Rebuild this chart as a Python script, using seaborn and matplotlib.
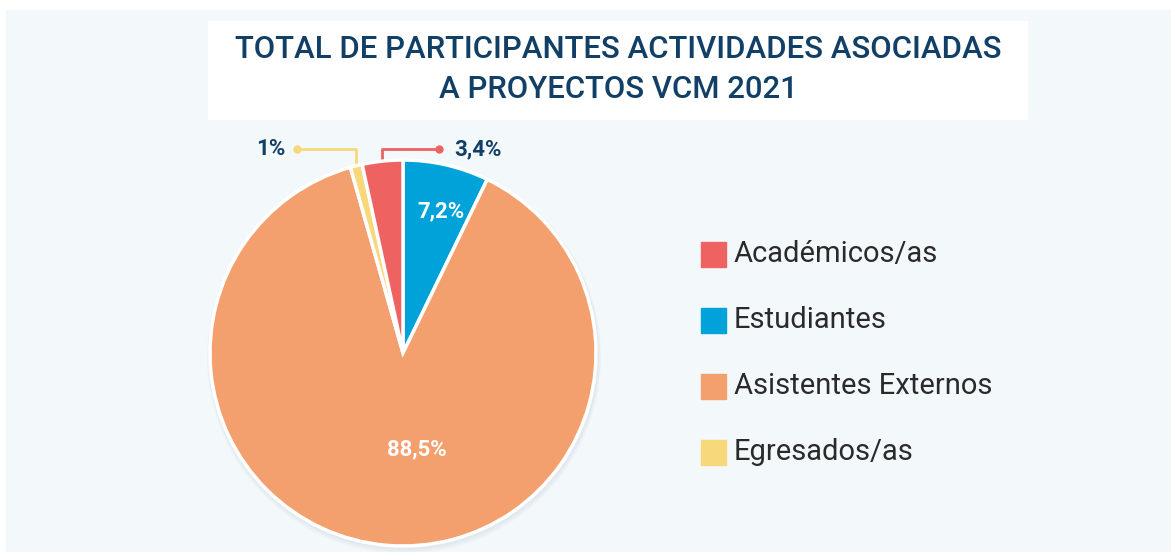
import numpy as np
import seaborn as sns
import matplotlib.pyplot as plt
from matplotlib.patches import Rectangle, Circle

# data (order as drawn clockwise from 12 o'clock)
categories = ['Estudiantes', 'Asistentes Externos', 'Egresados/as', 'Académicos/as']
shares = [7.2, 88.5, 1.0, 3.4]
share_labels = ['7,2%', '88,5%', '1%', '3,4%']
legend_order = ['Académicos/as', 'Estudiantes', 'Asistentes Externos', 'Egresados/as']

colors = {'Académicos/as': '#ee6262', 'Estudiantes': '#00a3d9',
          'Asistentes Externos': '#f4a06e', 'Egresados/as': '#f7d87a'}
navy = '#113f66'

sns.set_theme(style='white')
plt.rcParams['font.family'] = ['Roboto', 'DejaVu Sans']

W, H = 1171, 552
fig = plt.figure(figsize=(W / 100, H / 100), dpi=100)
ax = fig.add_axes([0, 0, 1, 1])

# background panel and title box
ax.add_patch(Rectangle((6, 0), W - 6, H - 10, color='#f3f8fb', zorder=0))
ax.add_patch(Rectangle((208, H - 119), 819, 98, color='white', zorder=1))
ax.text(618, H - 50, 'TOTAL DE PARTICIPANTES ACTIVIDADES ASOCIADAS', ha='center', va='center',
        fontsize=22.4, color=navy, fontweight='medium', zorder=2)
ax.text(618, H - 89, 'A PROYECTOS VCM 2021', ha='center', va='center',
        fontsize=22.4, color=navy, fontweight='medium', zorder=2)

cx, cy, r = 403, H - 353, 193

# soft shadow
for k in range(3):
    ax.add_patch(Circle((cx + 1, cy - 2 - k), r + 2 + k, color='#8a9aa8', alpha=0.05, zorder=1, lw=0))

wedges, _ = ax.pie(shares, colors=[colors[c] for c in categories], startangle=90, counterclock=False,
                   center=(cx, cy), radius=r, frame=True,
                   wedgeprops=dict(edgecolor='white', linewidth=2.5, zorder=3))
ax.set_xlim(0, W)
ax.set_ylim(0, H)
ax.set_aspect('equal')
ax.axis('off')

line_y = H - 149
for w, lab, cat in zip(wedges, share_labels, categories):
    mid = np.deg2rad((w.theta1 + w.theta2) / 2)
    if cat == 'Estudiantes':
        ax.text(cx + 0.74 * r * np.cos(mid) + 6, cy + 0.74 * r * np.sin(mid) + 2, lab,
                ha='center', va='center', color='white', fontsize=16, fontweight='bold', zorder=4)
    elif cat == 'Asistentes Externos':
        ax.text(cx + 0.5 * r * np.cos(mid) + 22, cy + 0.5 * r * np.sin(mid), lab,
                ha='center', va='center', color='white', fontsize=16, fontweight='bold', zorder=4)
    else:
        x0 = cx + r * np.cos(mid)
        y0 = cy + r * np.sin(mid) - 4
        right = cat == 'Académicos/as'
        x1 = x0 + 57 if right else x0 - 59
        c = colors[cat]
        ax.plot([x0, x0, x1], [y0, line_y, line_y], color=c, lw=2, zorder=2, solid_capstyle='butt')
        ax.plot([x1], [line_y], 'o', color=c, ms=5, zorder=2)
        ax.text(x1 + 15 if right else x1 - 12, line_y, lab, ha='left' if right else 'right', va='center',
                color=navy, fontsize=16, fontweight='bold', zorder=4)

# legend
for i, cat in enumerate(legend_order):
    y = H - 254 - i * 66
    ax.add_patch(Rectangle((701, y - 12.5), 25, 25, color=colors[cat], zorder=3))
    ax.text(734, y, cat, ha='left', va='center', fontsize=21, color='#2a2a2a', zorder=3)

fig.savefig('out.png', dpi=100, facecolor='white')
